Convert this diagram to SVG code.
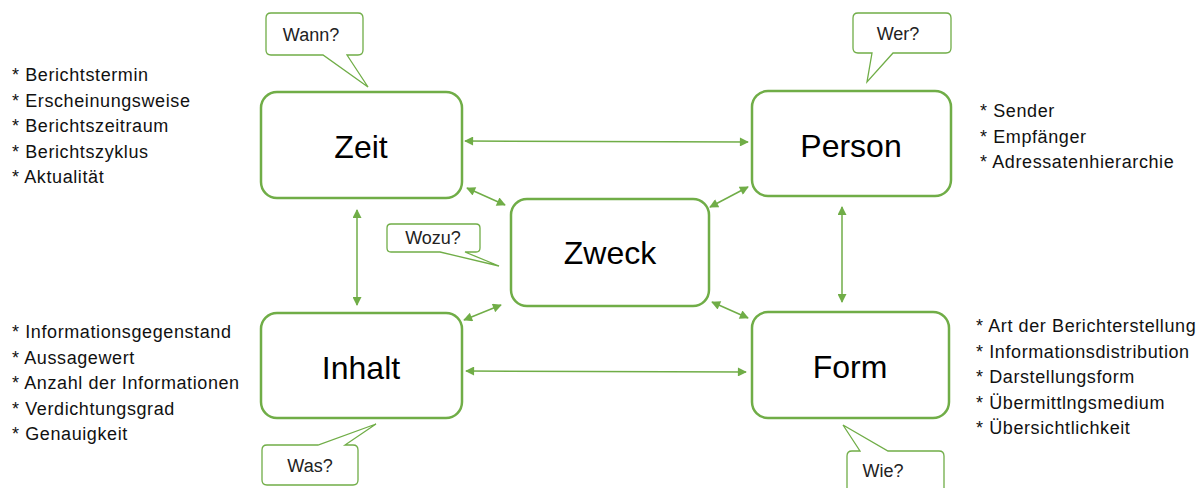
<svg xmlns="http://www.w3.org/2000/svg" width="1203" height="488" viewBox="0 0 1203 488">
<defs>
<marker id="ah" viewBox="0 0 10 10" refX="9" refY="5" markerWidth="11" markerHeight="9" markerUnits="userSpaceOnUse" orient="auto-start-reverse">
<path d="M0,0 L10,5 L0,10 z" fill="#70AD47"/>
</marker>
<style>
.box{fill:#fff;stroke:#70AD47;stroke-width:2.5}
.call{fill:#fff;stroke:#70AD47;stroke-width:1.3;stroke-linejoin:miter}
.lbl{font-family:"Liberation Sans",Arial,sans-serif;font-size:32px;fill:#000;text-anchor:middle}
.ct{font-family:"Liberation Sans",Arial,sans-serif;font-size:18px;fill:#222;text-anchor:middle}
.lst{font-family:"Liberation Sans",Arial,sans-serif;font-size:18px;letter-spacing:0.6px;fill:#111}
.con{stroke:#70AD47;stroke-width:1.5;fill:none;marker-start:url(#ah);marker-end:url(#ah)}
</style>
</defs>
<rect width="1203" height="488" fill="#fff"/>

<g id="connectors">
<line class="con" x1="465" y1="141" x2="748" y2="142"/>
<line class="con" x1="467" y1="188" x2="505" y2="205"/>
<line class="con" x1="748" y1="187" x2="710" y2="207"/>
<line class="con" x1="357" y1="210" x2="357" y2="305"/>
<line class="con" x1="842" y1="207" x2="842" y2="302"/>
<line class="con" x1="464" y1="320" x2="501" y2="305"/>
<line class="con" x1="712" y1="302" x2="748" y2="318"/>
<line class="con" x1="466" y1="371" x2="746" y2="372"/>
</g>

<g id="zeit">
<rect class="box" x="261" y="92" width="201" height="106" rx="16"/>
<text class="lbl" x="361" y="158">Zeit</text>
</g>
<g id="person">
<rect class="box" x="752" y="91" width="199" height="105" rx="16"/>
<text class="lbl" x="851" y="157">Person</text>
</g>
<g id="zweck">
<rect class="box" x="511" y="199" width="198" height="107" rx="16"/>
<text class="lbl" x="610" y="264">Zweck</text>
</g>
<g id="inhalt">
<rect class="box" x="261" y="313" width="201" height="105" rx="16"/>
<text class="lbl" x="361" y="379">Inhalt</text>
</g>
<g id="form">
<rect class="box" x="752" y="312" width="197" height="106" rx="16"/>
<text class="lbl" x="850" y="378">Form</text>
</g>

<g id="callout-wann">
<path class="call" d="M271,13 H358 Q363,13 363,18 V50 Q363,55 358,55 H347 L368,87 L323,55 H271 Q266,55 266,50 V18 Q266,13 271,13 Z"/>
<text class="ct" x="311" y="41">Wann?</text>
</g>
<g id="callout-wer">
<path class="call" d="M858,13 H946 Q951,13 951,18 V48 Q951,53 946,53 H893 L867,82 L872,53 H858 Q853,53 853,48 V18 Q853,13 858,13 Z"/>
<text class="ct" x="898" y="40">Wer?</text>
</g>
<g id="callout-wozu">
<path class="call" d="M391,224 H476 Q480,224 480,228 V248 Q480,252 476,252 H465 L499,266 L440,252 H391 Q387,252 387,248 V228 Q387,224 391,224 Z"/>
<text class="ct" x="433" y="244">Wozu?</text>
</g>
<g id="callout-was">
<path class="call" d="M267,445 H318 L376,424 L345,445 H353 Q358,445 358,450 V480 Q358,485 353,485 H267 Q262,485 262,480 V450 Q262,445 267,445 Z"/>
<text class="ct" x="310" y="472">Was?</text>
</g>
<g id="callout-wie">
<path class="call" d="M852,451 H860 L843,425 L888,451 H939 Q944,451 944,456 V495 H847 V456 Q847,451 852,451 Z"/>
<text class="ct" x="883" y="477">Wie?</text>
</g>

<g id="list-zeit" class="lst">
<text x="12" y="81">* Berichtstermin</text>
<text x="12" y="107">* Erscheinungsweise</text>
<text x="12" y="132">* Berichtszeitraum</text>
<text x="12" y="158">* Berichtszyklus</text>
<text x="12" y="183">* Aktualität</text>
</g>
<g id="list-person" class="lst">
<text x="980" y="117">* Sender</text>
<text x="980" y="143">* Empfänger</text>
<text x="980" y="168">* Adressatenhierarchie</text>
</g>
<g id="list-inhalt" class="lst">
<text x="12" y="338">* Informationsgegenstand</text>
<text x="12" y="364">* Aussagewert</text>
<text x="12" y="389">* Anzahl der Informationen</text>
<text x="12" y="415">* Verdichtungsgrad</text>
<text x="12" y="440">* Genauigkeit</text>
</g>
<g id="list-form" class="lst">
<text x="976" y="332">* Art der Berichterstellung</text>
<text x="976" y="358">* Informationsdistribution</text>
<text x="976" y="383">* Darstellungsform</text>
<text x="976" y="409">* Übermittlngsmedium</text>
<text x="976" y="434">* Übersichtlichkeit</text>
</g>
</svg>
